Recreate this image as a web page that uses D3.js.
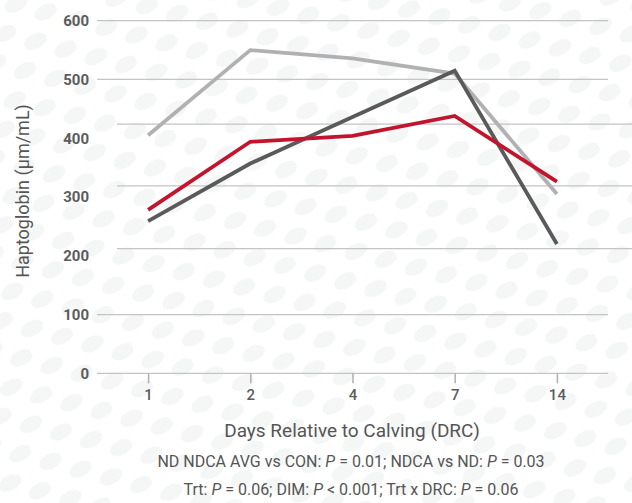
<!DOCTYPE html>
<html><head><meta charset="utf-8">
<script src="https://cdn.jsdelivr.net/npm/d3@7"></script>
<style>
html,body{margin:0;padding:0;background:#fff;}
svg{display:block;}
text{font-family:"Liberation Sans Narrow","Roboto","Liberation Sans",sans-serif;}
</style></head>
<body>
<svg id="chart" width="632" height="503"></svg>
<script>
// ---- data ----
const days = ["1","2","4","7","14"];
const seriesNames = ["LightGray","DarkGray","Red"];
const lightGrayValues = [405, 550, 536, 510, 305];
const darkGrayValues  = [259, 357, 436, 515, 220];
const redValues       = [278, 394, 404, 438, 326];
const yTickValues = [0, 100, 200, 300, 400, 500, 600];
// grid levels as drawn in the reference (some are offset from the tick labels)
const gridLevels = [600, 500, 424, 319, 212, 100, 0];
const xTitle = "Days Relative to Calving (DRC)";
const yTitle = "Haptoglobin (µm/mL)";

const colors = {LightGray:"#b1b1b3", DarkGray:"#5a5a5c", Red:"#c3142d"};
const seriesValues = {LightGray: lightGrayValues, DarkGray: darkGrayValues, Red: redValues};

const svg = d3.select("#chart");

// decorative dotted background
const defs = svg.append("defs");
const pat = defs.append("pattern").attr("id","dots").attr("patternUnits","userSpaceOnUse")
  .attr("width",46).attr("height",42).attr("patternTransform","rotate(-28)");
pat.append("ellipse").attr("cx",12).attr("cy",11).attr("rx",12).attr("ry",7.5).attr("fill","#f5f6f6");
pat.append("ellipse").attr("cx",35).attr("cy",32).attr("rx",12).attr("ry",7.5).attr("fill","#f5f6f6");
svg.append("rect").attr("width",632).attr("height",503).attr("fill","url(#dots)");

const x = d3.scalePoint().domain(days).range([97, 608]).padding(0.5);
const y = d3.scaleLinear().domain([0, 600]).range([373.3, 20.7]);

// gridlines
svg.append("g").selectAll("line").data(gridLevels).join("line")
  .attr("x1", d => yTickValues.includes(d) ? 97 : 117)
  .attr("x2", d => yTickValues.includes(d) ? 608 : 632)
  .attr("y1", d => y(d)).attr("y2", d => y(d))
  .attr("stroke", "#c4c4c4").attr("stroke-width", 1.3);

// x axis
const xAxis = d3.axisBottom(x).tickSize(10).tickPadding(6);
const gx = svg.append("g").attr("transform", `translate(0,${y(0)})`).call(xAxis);
gx.select(".domain").remove();
gx.selectAll(".tick line").attr("stroke","#b0b0b0").attr("stroke-width",1.5);
gx.selectAll(".tick text").attr("fill","#5c5c5c").attr("font-size",15)
  .attr("font-family",'"Liberation Sans Narrow","Roboto",sans-serif').attr("font-weight","500");

// y axis (labels only)
const yAxis = d3.axisLeft(y).tickValues(yTickValues).tickSize(0).tickPadding(0);
const gy = svg.append("g").attr("transform","translate(89,0)").call(yAxis);
gy.select(".domain").remove();
gy.selectAll(".tick text").attr("fill","#5c5c5c").attr("font-size",15)
  .attr("font-family",'"Liberation Sans Narrow","Roboto",sans-serif').attr("font-weight","bold");

// lines
const line = d3.line().x((d,i) => x(days[i])).y(d => y(d));
svg.append("g").selectAll("path").data(seriesNames).join("path")
  .attr("d", s => line(seriesValues[s]))
  .attr("fill","none").attr("stroke", s => colors[s])
  .attr("stroke-width",3.8).attr("stroke-linejoin","miter");

// axis titles
svg.append("text").attr("x", 352).attr("y", 437).attr("text-anchor","middle")
  .attr("fill","#555").attr("font-size",19).text(xTitle);
svg.append("text").attr("transform","translate(29,191) rotate(-90)").attr("text-anchor","middle")
  .attr("fill","#555").attr("font-size",18).text(yTitle);

// footnotes
const f1 = svg.append("text").attr("x",351).attr("y",467).attr("text-anchor","middle")
  .attr("fill","#555").attr("font-size",16);
f1.append("tspan").text("ND NDCA AVG vs CON: ");
f1.append("tspan").attr("font-style","italic").text("P");
f1.append("tspan").text(" = 0.01; NDCA vs ND: ");
f1.append("tspan").attr("font-style","italic").text("P");
f1.append("tspan").text(" = 0.03");
const f2 = svg.append("text").attr("x",351).attr("y",495).attr("text-anchor","middle")
  .attr("fill","#555").attr("font-size",16);
f2.append("tspan").text("Trt: ");
f2.append("tspan").attr("font-style","italic").text("P");
f2.append("tspan").text(" = 0.06; DIM: ");
f2.append("tspan").attr("font-style","italic").text("P");
f2.append("tspan").text(" < 0.001; Trt x DRC: ");
f2.append("tspan").attr("font-style","italic").text("P");
f2.append("tspan").text(" = 0.06");
</script>
</body></html>
